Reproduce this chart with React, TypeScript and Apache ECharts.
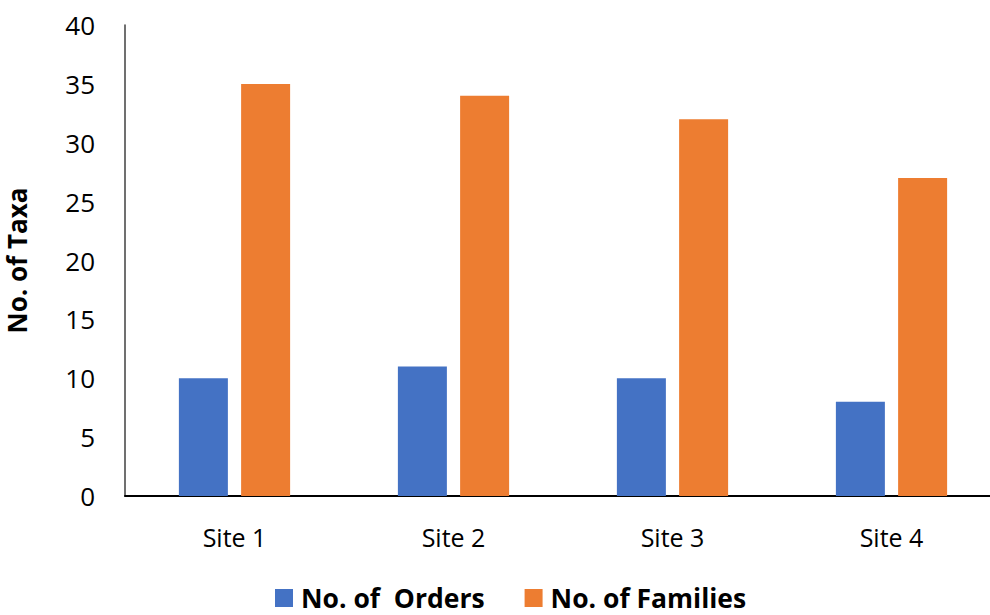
import React, { useEffect, useRef } from "react";
import * as echarts from "echarts";

const categories = ["Site 1", "Site 2", "Site 3", "Site 4"];
const orders = [10, 11, 10, 8];
const families = [35, 34, 32, 27];
const seriesNames = ["No. of  Orders", "No. of Families"];

export default function App() {
  const ref = useRef<HTMLDivElement>(null);
  useEffect(() => {
    const chart = echarts.init(ref.current!, null, { renderer: "svg" });
    const font = "'Open Sans', 'Noto Sans', sans-serif";
    chart.setOption({
      animation: false,
      textStyle: { fontFamily: font },
      grid: {
        left: 125,
        top: 25,
        width: 876,
        height: 471,
        containLabel: false,
        outerBoundsMode: "none",
      },
      legend: {
        top: 584,
        left: 275,
        itemWidth: 18,
        itemHeight: 18,
        itemGap: 40,
        icon: "rect",
        padding: 0,
        textStyle: {
          fontSize: 26.5,
          lineHeight: 28,
          fontWeight: "bold",
          color: "#000",
          fontFamily: font,
          padding: [0, 0, 0, 3],
        },
        data: seriesNames,
      },
      xAxis: {
        type: "category",
        data: categories,
        axisLine: { lineStyle: { color: "#000", width: 2 } },
        axisTick: { show: false },
        axisLabel: { fontSize: 25, color: "#000", margin: 28, fontFamily: font },
      },
      yAxis: {
        type: "value",
        min: 0,
        max: 40,
        interval: 5,
        name: "No. of Taxa",
        nameLocation: "middle",
        nameGap: 95,
        nameTextStyle: { fontSize: 26, fontWeight: "bold", color: "#000", fontFamily: font },
        axisLine: { show: true, lineStyle: { color: "#404040", width: 1.5 } },
        axisTick: { show: false },
        splitLine: { show: false },
        axisLabel: { fontSize: 26, color: "#000", margin: 30, fontFamily: font },
      },
      series: [
        {
          name: seriesNames[0],
          type: "bar",
          data: orders,
          barWidth: 49,
          barGap: "27%",
          itemStyle: { color: "#4472C4" },
        },
        {
          name: seriesNames[1],
          type: "bar",
          data: families,
          barWidth: 49,
          barGap: "27%",
          itemStyle: { color: "#ED7D31" },
        },
      ],
    });
    return () => chart.dispose();
  }, []);
  return <div ref={ref} style={{ width: 990, height: 615, position: "absolute", left: 0, top: 0 }} />;
}
